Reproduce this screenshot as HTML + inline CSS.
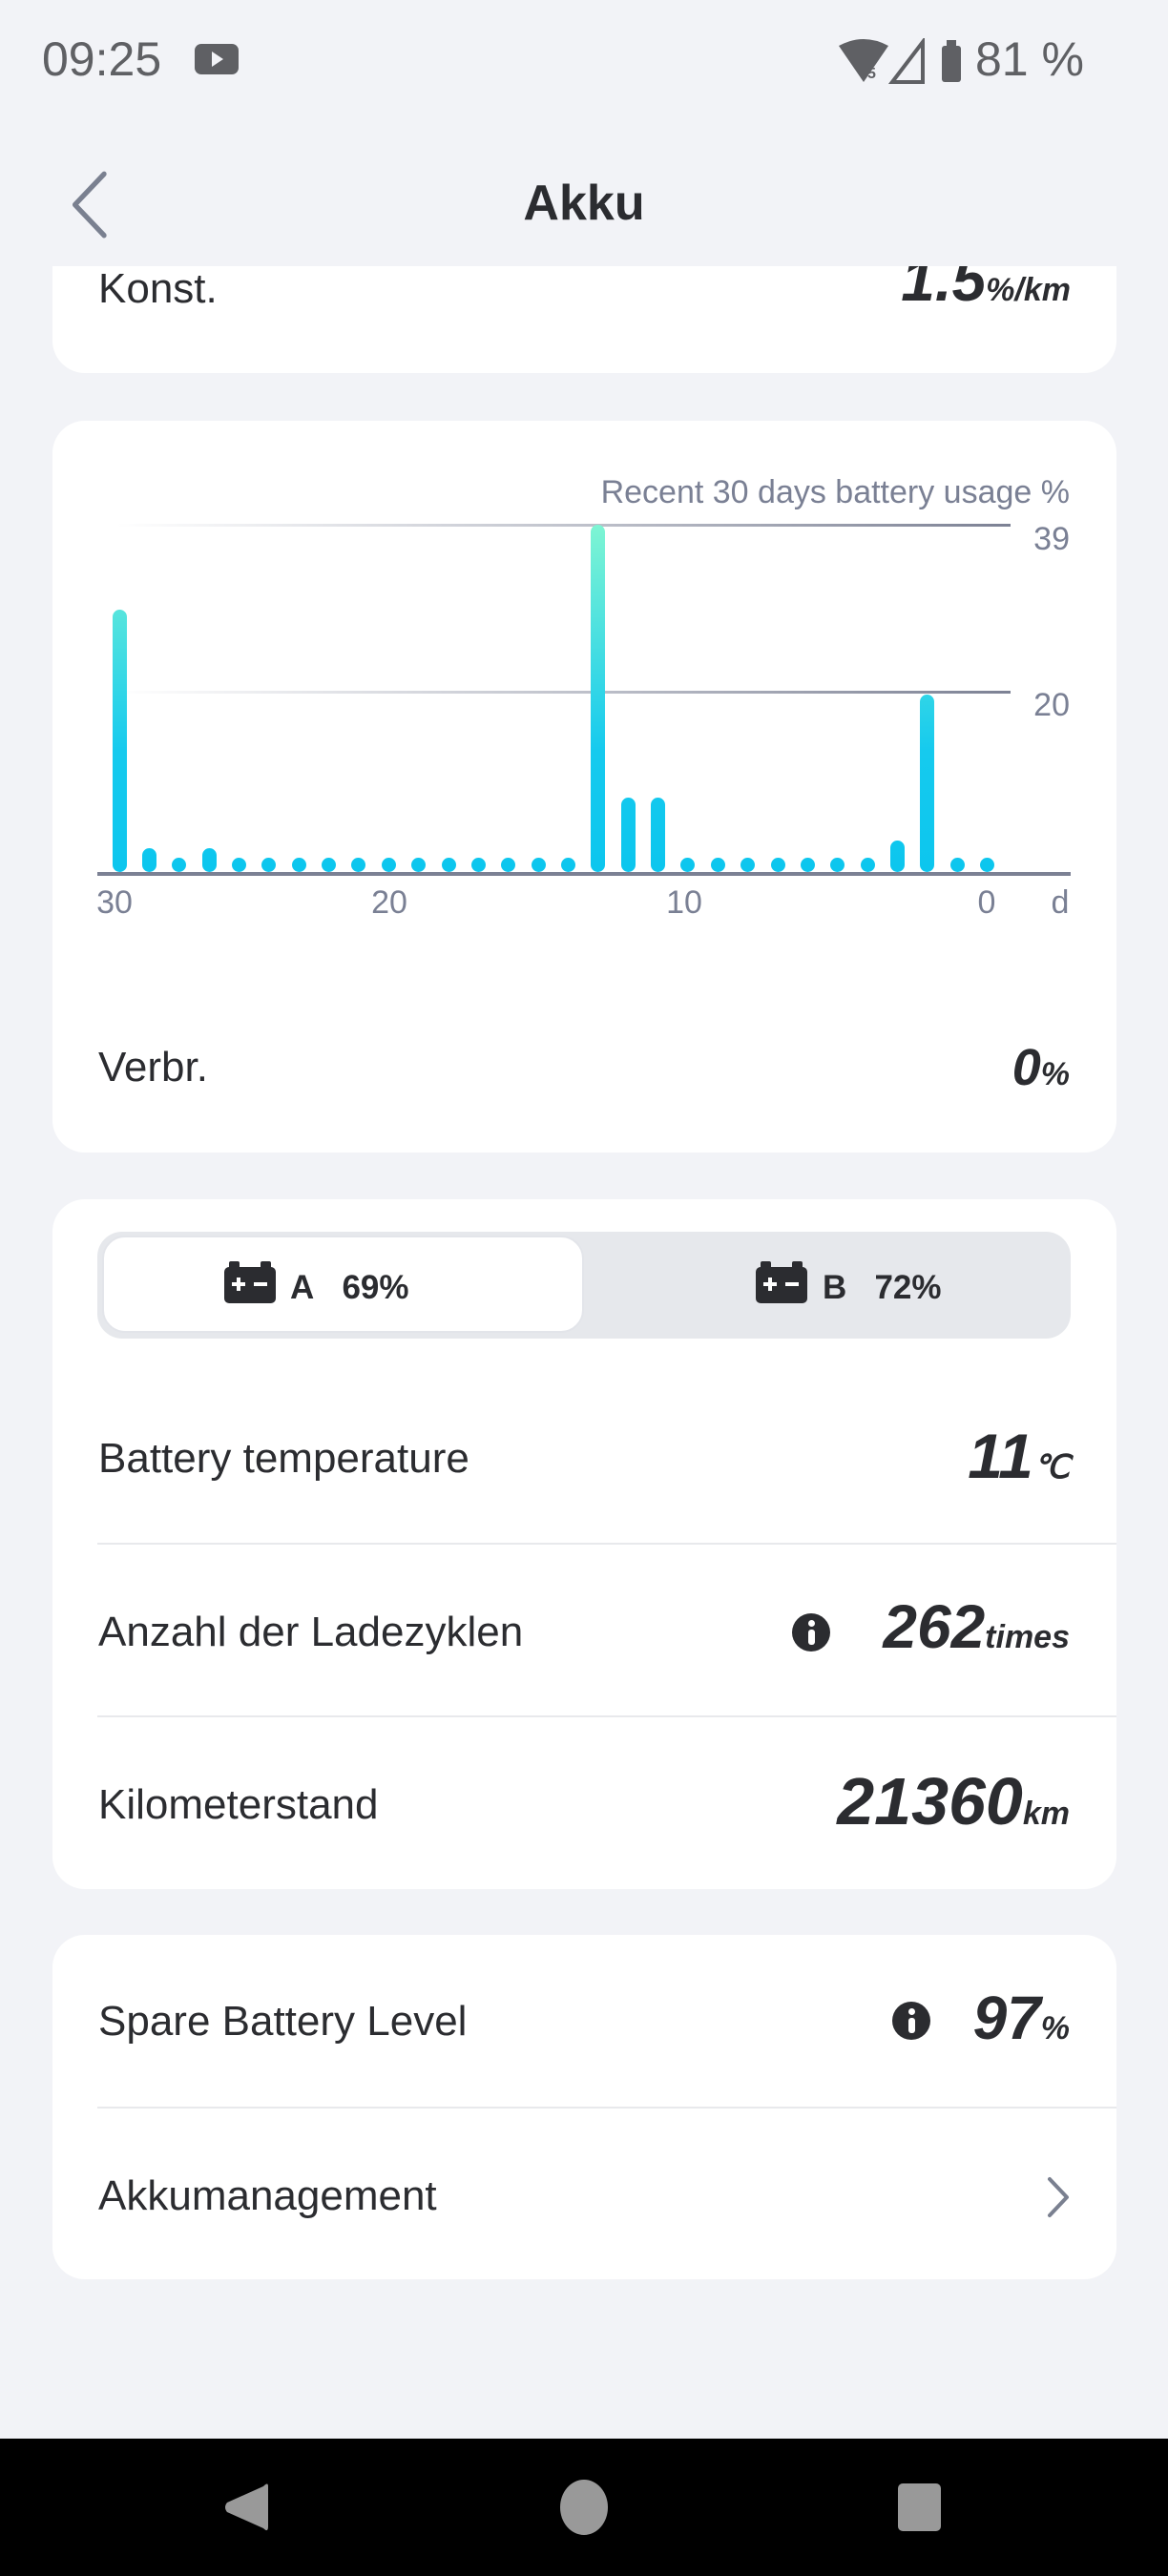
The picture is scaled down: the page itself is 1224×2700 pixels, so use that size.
<!DOCTYPE html>
<html><head><meta charset="utf-8">
<style>
*{margin:0;padding:0;box-sizing:border-box}
html,body{width:1224px;height:2700px;background:#f2f3f7;overflow:hidden;font-family:"Liberation Sans",sans-serif;color:#2b2c30}
.a{position:absolute}
.card{position:absolute;left:55px;width:1115px;background:#fff;border-radius:34px}
.lbl{position:absolute;left:103px;font-size:44px;line-height:60px;height:60px;color:#2b2c30;white-space:nowrap}
.val{position:absolute;right:103px;height:80px;line-height:80px;white-space:nowrap;font-weight:bold;font-style:italic;color:#2b2c30}
.big{font-size:70px}
.unit{font-size:34px}
.div{position:absolute;left:102px;width:1068px;height:2px;background:#e8e9ec}
.info{position:absolute;width:40px;height:40px;border-radius:50%;background:#2b2c30}
.info:before{content:"";position:absolute;left:17px;top:7px;width:7px;height:7px;border-radius:50%;background:#fff}
.info:after{content:"";position:absolute;left:17px;top:17px;width:7px;height:16px;border-radius:3px;background:#fff}
</style></head><body>
<!-- status bar -->
<div class="a" style="left:44px;top:32px;font-size:50px;line-height:60px;color:#5f6064">09:25</div>
<div class="a" style="left:204px;top:46px;width:46px;height:32px;background:#5f6064;border-radius:7px"></div>
<div class="a" style="left:222px;top:54px;width:0;height:0;border-left:12px solid #f2f3f7;border-top:8px solid transparent;border-bottom:8px solid transparent"></div>
<svg class="a" style="left:875px;top:40px" width="140" height="50">
<path d="M4 8 Q30 -6 56 8 L30 46 Z" fill="#5f6064"/>
<text x="34" y="42" font-size="16" font-weight="bold" fill="#5f6064" font-family="Liberation Sans">5</text>
<path d="M60 46 L92 46 L92 4 Z" fill="none" stroke="#5f6064" stroke-width="4"/>
<rect x="112" y="8" width="20" height="38" rx="3" fill="#5f6064"/><rect x="117" y="2" width="10" height="8" fill="#5f6064"/>
</svg>
<div class="a" style="left:1022px;top:32px;font-size:50px;line-height:60px;color:#5f6064">81 %</div>
<!-- header -->
<svg class="a" style="left:70px;top:175px" width="60" height="80"><path d="M46 8 L10 43 L46 78" fill="none" stroke="#7a8090" stroke-width="6" stroke-linecap="round" stroke-linejoin="round" transform="scale(0.85,0.92)"/></svg>
<div class="a" style="left:0;width:1224px;top:183px;text-align:center;font-size:52px;line-height:60px;font-weight:bold;color:#2b2c30">Akku</div>
<!-- card1 -->
<div class="card" style="top:279px;height:112px;border-radius:0 0 34px 34px;overflow:hidden">
<div class="lbl" style="left:48px;top:-6px">Konst.</div>
<div class="val" style="right:48px;top:-26px;height:80px;line-height:80px"><span class="big" style="font-size:64px">1.5</span><span class="unit">%/km</span></div>
</div>
<!-- card2 chart -->
<div class="card" style="top:441px;height:767px"></div>
<svg class="a" style="left:0;top:0" width="1224" height="1000" font-family="Liberation Sans">
<defs>
<linearGradient id="gl" x1="0" x2="1" y1="0" y2="0"><stop offset="0" stop-color="#8a90a2" stop-opacity="0"/><stop offset="1" stop-color="#7c8194"/></linearGradient>
<linearGradient id="bg" gradientUnits="userSpaceOnUse" x1="0" x2="0" y1="550" y2="914"><stop offset="0" stop-color="#7ef5d3"/><stop offset="0.65" stop-color="#16caee"/><stop offset="1" stop-color="#0cc6ee"/></linearGradient>
</defs>
<text x="1121" y="527" text-anchor="end" font-size="34" fill="#7a8094">Recent 30 days battery usage %</text>
<rect x="122" y="549" width="937" height="3" fill="url(#gl)"/>
<rect x="122" y="724" width="937" height="3" fill="url(#gl)"/>
<text x="1121" y="576" text-anchor="end" font-size="34" fill="#7a8094">39</text>
<text x="1121" y="750" text-anchor="end" font-size="34" fill="#7a8094">20</text>
<rect x="102" y="914" width="1020" height="4" fill="#7c8194"/>
<text x="120" y="957" text-anchor="middle" font-size="34" fill="#7a8094">30</text>
<text x="408" y="957" text-anchor="middle" font-size="34" fill="#7a8094">20</text>
<text x="717" y="957" text-anchor="middle" font-size="34" fill="#7a8094">10</text>
<text x="1034" y="957" text-anchor="middle" font-size="34" fill="#7a8094">0</text>
<text x="1111" y="957" text-anchor="middle" font-size="34" fill="#7a8094">d</text>
<g fill="url(#bg)">
<rect x="118" y="639" width="15" height="275" rx="7.5"/>
<rect x="149" y="889" width="15" height="25" rx="7.5"/>
<rect x="180" y="899" width="15" height="15" rx="7.5"/>
<rect x="212" y="889" width="15" height="25" rx="7.5"/>
<rect x="243" y="899" width="15" height="15" rx="7.5"/>
<rect x="274" y="899" width="15" height="15" rx="7.5"/>
<rect x="306" y="899" width="15" height="15" rx="7.5"/>
<rect x="337" y="899" width="15" height="15" rx="7.5"/>
<rect x="368" y="899" width="15" height="15" rx="7.5"/>
<rect x="400" y="899" width="15" height="15" rx="7.5"/>
<rect x="431" y="899" width="15" height="15" rx="7.5"/>
<rect x="463" y="899" width="15" height="15" rx="7.5"/>
<rect x="494" y="899" width="15" height="15" rx="7.5"/>
<rect x="525" y="899" width="15" height="15" rx="7.5"/>
<rect x="557" y="899" width="15" height="15" rx="7.5"/>
<rect x="588" y="899" width="15" height="15" rx="7.5"/>
<rect x="619" y="550" width="15" height="364" rx="7.5"/>
<rect x="651" y="836" width="15" height="78" rx="7.5"/>
<rect x="682" y="836" width="15" height="78" rx="7.5"/>
<rect x="713" y="899" width="15" height="15" rx="7.5"/>
<rect x="745" y="899" width="15" height="15" rx="7.5"/>
<rect x="776" y="899" width="15" height="15" rx="7.5"/>
<rect x="808" y="899" width="15" height="15" rx="7.5"/>
<rect x="839" y="899" width="15" height="15" rx="7.5"/>
<rect x="870" y="899" width="15" height="15" rx="7.5"/>
<rect x="902" y="899" width="15" height="15" rx="7.5"/>
<rect x="933" y="881" width="15" height="33" rx="7.5"/>
<rect x="964" y="728" width="15" height="186" rx="7.5"/>
<rect x="996" y="899" width="15" height="15" rx="7.5"/>
<rect x="1027" y="899" width="15" height="15" rx="7.5"/>
</g>
</svg>
<div class="lbl" style="top:1089px">Verbr.</div>
<div class="val" style="top:1079px"><span class="big" style="font-size:54px">0</span><span class="unit">%</span></div>
<!-- card3 -->
<div class="card" style="top:1257px;height:723px"></div>
<div class="a" style="left:102px;top:1291px;width:1020px;height:112px;background:#e6e8ec;border-radius:26px"></div>
<div class="a" style="left:107px;top:1295px;width:505px;height:102px;background:#fff;border-radius:24px;border:2px solid #e3e5ea"></div>
<svg class="a" style="left:233px;top:1320px" width="60" height="50"><rect x="2" y="8" width="54" height="38" rx="5" fill="#2b2c30"/><rect x="7" y="2" width="11" height="8" rx="2" fill="#2b2c30"/><rect x="40" y="2" width="11" height="8" rx="2" fill="#2b2c30"/><rect x="10" y="24" width="14" height="4" fill="#fff"/><rect x="15" y="19" width="4" height="14" fill="#fff"/><rect x="33" y="24" width="14" height="4" fill="#fff"/></svg>
<div class="a" style="left:304px;top:1328px;font-size:35px;line-height:44px;font-weight:bold">A&nbsp;&nbsp;&nbsp;69%</div>
<svg class="a" style="left:790px;top:1320px" width="60" height="50"><rect x="2" y="8" width="54" height="38" rx="5" fill="#2b2c30"/><rect x="7" y="2" width="11" height="8" rx="2" fill="#2b2c30"/><rect x="40" y="2" width="11" height="8" rx="2" fill="#2b2c30"/><rect x="10" y="24" width="14" height="4" fill="#fff"/><rect x="15" y="19" width="4" height="14" fill="#fff"/><rect x="33" y="24" width="14" height="4" fill="#fff"/></svg>
<div class="a" style="left:862px;top:1328px;font-size:35px;line-height:44px;font-weight:bold">B&nbsp;&nbsp;&nbsp;72%</div>
<div class="lbl" style="top:1499px">Battery temperature</div>
<div class="val" style="top:1486px"><span class="big" style="font-size:66px">11</span><span class="unit">℃</span></div>
<div class="div" style="top:1617px"></div>
<div class="lbl" style="top:1681px">Anzahl der Ladezyklen</div>
<div class="info" style="left:830px;top:1691px"></div>
<div class="val" style="top:1665px"><span class="big" style="font-size:64px">262</span><span class="unit">times</span></div>
<div class="div" style="top:1798px"></div>
<div class="lbl" style="top:1862px">Kilometerstand</div>
<div class="val" style="top:1848px"><span class="big">21360</span><span class="unit">km</span></div>
<!-- card4 -->
<div class="card" style="top:2028px;height:361px"></div>
<div class="lbl" style="top:2089px">Spare Battery Level</div>
<div class="info" style="left:935px;top:2098px"></div>
<div class="val" style="top:2075px"><span class="big" style="font-size:64px">97</span><span class="unit">%</span></div>
<div class="div" style="top:2208px"></div>
<div class="lbl" style="top:2272px">Akkumanagement</div>
<svg class="a" style="left:1092px;top:2280px" width="36" height="46"><path d="M8 4 L26 23 L8 42" fill="none" stroke="#7a8090" stroke-width="4" stroke-linecap="round" stroke-linejoin="round"/></svg>
<!-- nav -->
<div class="a" style="left:0;top:2556px;width:1224px;height:144px;background:#000"></div>
<svg class="a" style="left:0;top:2556px" width="1224" height="144">
<path d="M281 50 L281 92 Q281 99 276 94 L238 77 Q234 72 238 67 L276 50 Q281 45 281 50 Z" fill="#999"/>
<ellipse cx="612" cy="72" rx="25" ry="29" fill="#999"/>
<rect x="941" y="47" width="45" height="50" rx="5" fill="#999"/>
</svg>
</body></html>
